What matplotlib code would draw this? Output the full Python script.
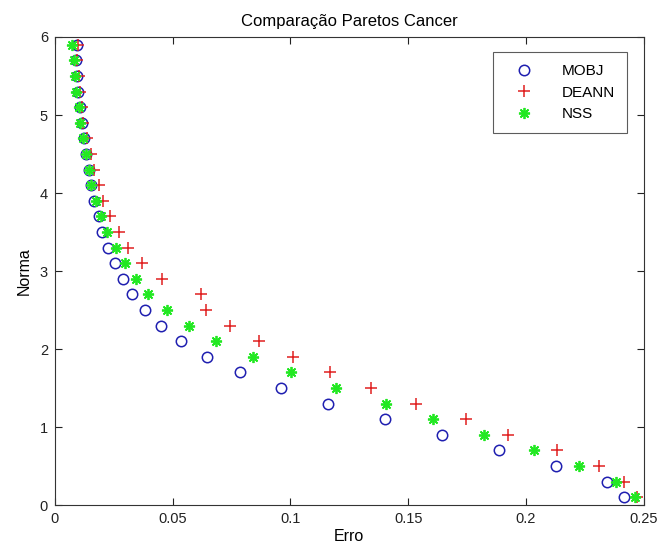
import matplotlib
matplotlib.use("Agg")
import matplotlib.pyplot as plt

# Norma levels shared by the three Pareto fronts
norma = [5.9, 5.7, 5.5, 5.3, 5.1, 4.9, 4.7, 4.5, 4.3, 4.1, 3.9, 3.7, 3.5, 3.3, 3.1,
         2.9, 2.7, 2.5, 2.3, 2.1, 1.9, 1.7, 1.5, 1.3, 1.1, 0.9, 0.7, 0.5, 0.3, 0.1]

erro_mobj = [0.0092, 0.0088, 0.0092, 0.0099, 0.0106, 0.0113, 0.0123, 0.0131, 0.0144, 0.0155,
             0.0166, 0.0186, 0.0200, 0.0223, 0.0254, 0.0288, 0.0329, 0.0381, 0.0450, 0.0535,
             0.0644, 0.0787, 0.0958, 0.1160, 0.1400, 0.1645, 0.1886, 0.2127, 0.2343, 0.2418]

erro_deann = [0.0096, 0.0092, 0.0102, 0.0106, 0.0113, 0.0120, 0.0134, 0.0151, 0.0165, 0.0185,
              0.0205, 0.0233, 0.0270, 0.0311, 0.0370, 0.0456, 0.0620, 0.0643, 0.0742, 0.0866,
              0.1010, 0.1170, 0.1340, 0.1532, 0.1744, 0.1922, 0.2133, 0.2309, 0.2418, 0.2470]

erro_nss = [0.0073, 0.0082, 0.0086, 0.0089, 0.0103, 0.0106, 0.0117, 0.0130, 0.0144, 0.0155,
            0.0176, 0.0195, 0.0219, 0.0257, 0.0298, 0.0342, 0.0395, 0.0476, 0.0569, 0.0685,
            0.0839, 0.1004, 0.1193, 0.1404, 0.1607, 0.1823, 0.2035, 0.2225, 0.2384, 0.2465]

x_ticks = [0, 0.05, 0.1, 0.15, 0.2, 0.25]
x_tick_labels = ["0", "0.05", "0.1", "0.15", "0.2", "0.25"]
y_ticks = [0, 1, 2, 3, 4, 5, 6]

plt.rcParams["font.family"] = ["Liberation Sans", "DejaVu Sans"]
plt.rcParams["font.size"] = 10

fig = plt.figure(figsize=(6.57, 5.52), dpi=100)
ax = fig.add_axes([0.0837, 0.085, 0.896, 0.848])

ax.plot(erro_mobj, norma, linestyle="none", marker="o", markersize=7.5,
        markerfacecolor="none", markeredgecolor="#1f1fb0", markeredgewidth=1.1, label="MOBJ")
ax.plot(erro_deann, norma, linestyle="none", marker="+", markersize=9,
        color="#e02020", markeredgewidth=1.1, label="DEANN")
ax.plot(erro_nss, norma, linestyle="none", marker=(8, 2, 0), markersize=8,
        color="#22e822", markeredgewidth=1.3, label="NSS")

ax.set_xlim(0, 0.25)
ax.set_ylim(0, 6)
ax.set_xticks(x_ticks)
ax.set_xticklabels(x_tick_labels)
ax.set_yticks(y_ticks)
ax.tick_params(direction="in", top=True, right=True, length=5, width=0.8,
               labelsize=10.5, colors="#222222", pad=5)
for s in ax.spines.values():
    s.set_linewidth(0.8)
    s.set_color("#333333")

ax.set_title("Comparação Paretos Cancer", fontsize=12, pad=8)
ax.set_xlabel("Erro", fontsize=11.5, labelpad=2)
ax.set_ylabel("Norma", fontsize=11.5, labelpad=6)

leg = ax.legend(loc="upper right", fontsize=11, frameon=True, fancybox=False,
                edgecolor="#333333", borderpad=0.8, handletextpad=1.2,
                handlelength=2.5, labelspacing=0.5, bbox_to_anchor=(0.985, 0.985))
leg.get_frame().set_linewidth(0.8)

fig.savefig("out.png", dpi=100, facecolor="white")
